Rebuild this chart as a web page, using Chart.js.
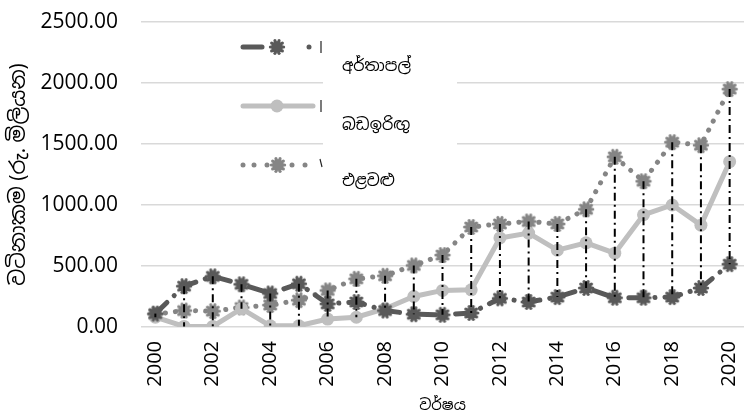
<!DOCTYPE html>
<html>
<head>
<meta charset="utf-8">
<script src="https://cdn.jsdelivr.net/npm/chart.js@4"></script>
<style>
  html, body { margin: 0; padding: 0; background: #fff; }
  #wrap { width: 744px; height: 415px; }
</style>
</head>
<body>
<div id="wrap"><canvas id="chart" width="744" height="415"></canvas></div>
<script>
// data
const years = ['2000','2001','2002','2003','2004','2005','2006','2007','2008','2009','2010',
  '2011','2012','2013','2014','2015','2016','2017','2018','2019','2020'];
const potato = [110, 335, 415, 350, 275, 355, 190, 205, 135, 105, 100,
  115, 235, 205, 245, 320, 240, 240, 245, 320, 515];
const maize = [80, 5, 5, 150, 10, 10, 65, 80, 150, 250, 300,
  305, 730, 770, 630, 690, 605, 920, 1000, 835, 1355];
const vegetables = [105, 135, 130, 160, 180, 220, 300, 395, 420, 505, 590,
  820, 845, 865, 845, 965, 1395, 1195, 1515, 1490, 1950];
const seriesNames = ['අර්තාපල්', 'බඩඉරිඟු', 'එළවළු'];
const yTitle = 'වටිනාකම (රු. මිලියන)';
const xTitle = 'වර්ෂය';

const FONT = '"Open Sans", "Noto Sans Sinhala", "Noto Sans", sans-serif';
const DARK = '#595959';
const LIGHT = '#bfbfbf';
const MID = '#858585';

// rough "burst" marker like the excel one
function makeBlob(color, r) {
  const c = document.createElement('canvas');
  const s = Math.ceil((r + 3) * 2);
  c.width = s; c.height = s;
  const g = c.getContext('2d');
  g.fillStyle = color;
  g.beginPath();
  g.arc(s / 2, s / 2, r, 0, Math.PI * 2);
  g.fill();
  for (let k = 0; k < 10; k++) {
    const a = k * Math.PI / 5;
    g.beginPath();
    g.arc(s / 2 + Math.cos(a) * (r + 0.6), s / 2 + Math.sin(a) * (r + 0.6), 1.6, 0, Math.PI * 2);
    g.fill();
  }
  return c;
}
const darkBlob = makeBlob(DARK, 6);
const midBlob = makeBlob(MID, 6);

// black dash-dot high-low lines
const hiLo = {
  id: 'hiLo',
  afterDatasetsDraw(chart) {
    const ctx = chart.ctx;
    const metas = [0, 1, 2].map(i => chart.getDatasetMeta(i));
    ctx.save();
    ctx.strokeStyle = '#000';
    ctx.lineWidth = 2;
    ctx.setLineDash([8, 4, 2, 4]);
    for (let i = 0; i < years.length; i++) {
      const ys = metas.map(m => m.data[i].y);
      const x = metas[0].data[i].x;
      ctx.beginPath();
      ctx.moveTo(x, Math.min(...ys));
      ctx.lineTo(x, Math.max(...ys));
      ctx.stroke();
    }
    ctx.restore();
  }
};

// odd excel legend: samples on the left, labels in a white box
const oddLegend = {
  id: 'oddLegend',
  afterDraw(chart) {
    const ctx = chart.ctx;
    ctx.save();
    ctx.fillStyle = '#fff';
    ctx.fillRect(323, 36, 134, 162);

    const ys = [47, 106, 165];
    ctx.lineCap = 'round';
    // potato
    ctx.strokeStyle = DARK; ctx.fillStyle = DARK; ctx.lineWidth = 5;
    ctx.beginPath(); ctx.moveTo(243, ys[0]); ctx.lineTo(262, ys[0]); ctx.stroke();
    ctx.drawImage(darkBlob, 277 - darkBlob.width / 2, ys[0] - darkBlob.height / 2);
    ctx.beginPath(); ctx.arc(309, ys[0], 2.5, 0, Math.PI * 2); ctx.fill();
    // maize
    ctx.strokeStyle = LIGHT; ctx.fillStyle = LIGHT;
    ctx.beginPath(); ctx.moveTo(243, ys[1]); ctx.lineTo(313, ys[1]); ctx.stroke();
    ctx.beginPath(); ctx.arc(277, ys[1], 6.5, 0, Math.PI * 2); ctx.fill();
    // vegetables
    ctx.fillStyle = MID;
    [243, 254, 267, 292, 305].forEach(x => {
      ctx.beginPath(); ctx.arc(x, ys[2], 2.5, 0, Math.PI * 2); ctx.fill();
    });
    ctx.drawImage(midBlob, 278 - midBlob.width / 2, ys[2] - midBlob.height / 2);

    // little clipped text stubs left of the box
    ctx.strokeStyle = '#222'; ctx.lineWidth = 1.2; ctx.lineCap = 'butt';
    ctx.beginPath(); ctx.moveTo(321, ys[0] - 6); ctx.lineTo(321, ys[0] + 6); ctx.stroke();
    ctx.beginPath(); ctx.moveTo(321, ys[1] - 6); ctx.lineTo(321, ys[1] + 6); ctx.stroke();
    ctx.beginPath(); ctx.moveTo(320, ys[2] - 6); ctx.lineTo(322, ys[2] + 2); ctx.stroke();

    // labels
    ctx.fillStyle = '#000';
    ctx.font = '16px ' + FONT;
    ctx.textBaseline = 'middle';
    const ly = [66, 125, 181];
    seriesNames.forEach((n, i) => ctx.fillText(n, 342, ly[i]));
    ctx.restore();
  }
};

new Chart(document.getElementById('chart'), {
  type: 'line',
  data: {
    labels: years,
    datasets: [
      {
        label: seriesNames[0], data: potato,
        borderColor: DARK, backgroundColor: DARK, borderWidth: 5,
        borderDash: [16, 10, 0.1, 10], borderCapStyle: 'round',
        pointStyle: darkBlob, pointRadius: 7
      },
      {
        label: seriesNames[1], data: maize,
        borderColor: LIGHT, backgroundColor: LIGHT, borderWidth: 5,
        pointStyle: 'circle', pointRadius: 6.5, pointBorderWidth: 0
      },
      {
        label: seriesNames[2], data: vegetables,
        borderColor: MID, backgroundColor: MID, borderWidth: 5,
        borderDash: [0.1, 10], borderCapStyle: 'round',
        pointStyle: midBlob, pointRadius: 7
      }
    ]
  },
  options: {
    responsive: false,
    animation: false,
    layout: { autoPadding: false, padding: { top: 0, right: 0, bottom: 0, left: 0 } },
    plugins: { legend: { display: false }, tooltip: { enabled: false } },
    scales: {
      x: {
        offset: true,
        grid: { display: false },
        border: { display: false },
        ticks: {
          autoSkip: false, maxRotation: 90, minRotation: 90, padding: 6,
          color: '#000', font: { family: FONT, size: 20 },
          callback: (v, i) => (i % 2 === 0 ? years[i] : '')
        },
        title: { display: true, text: xTitle, color: '#000', font: { family: FONT, size: 15 }, padding: { top: 0, bottom: 0 } },
        afterFit: s => { s.height = 88; s.paddingLeft = 0; s.paddingRight = 0; }
      },
      y: {
        min: 0, max: 2500,
        grid: { color: '#d9d9d9', lineWidth: 1.5, drawTicks: false },
        border: { display: false },
        ticks: {
          stepSize: 500, padding: 23, color: '#000', font: { family: FONT, size: 21 },
          callback: v => v.toFixed(2)
        },
        title: { display: true, text: yTitle, color: '#000', font: { family: FONT, size: 21 }, padding: { top: 6, bottom: 0 } },
        afterFit: s => { s.width = 141; s.paddingTop = 22; }
      }
    }
  },
  plugins: [hiLo, oddLegend]
});
</script>
</body>
</html>
